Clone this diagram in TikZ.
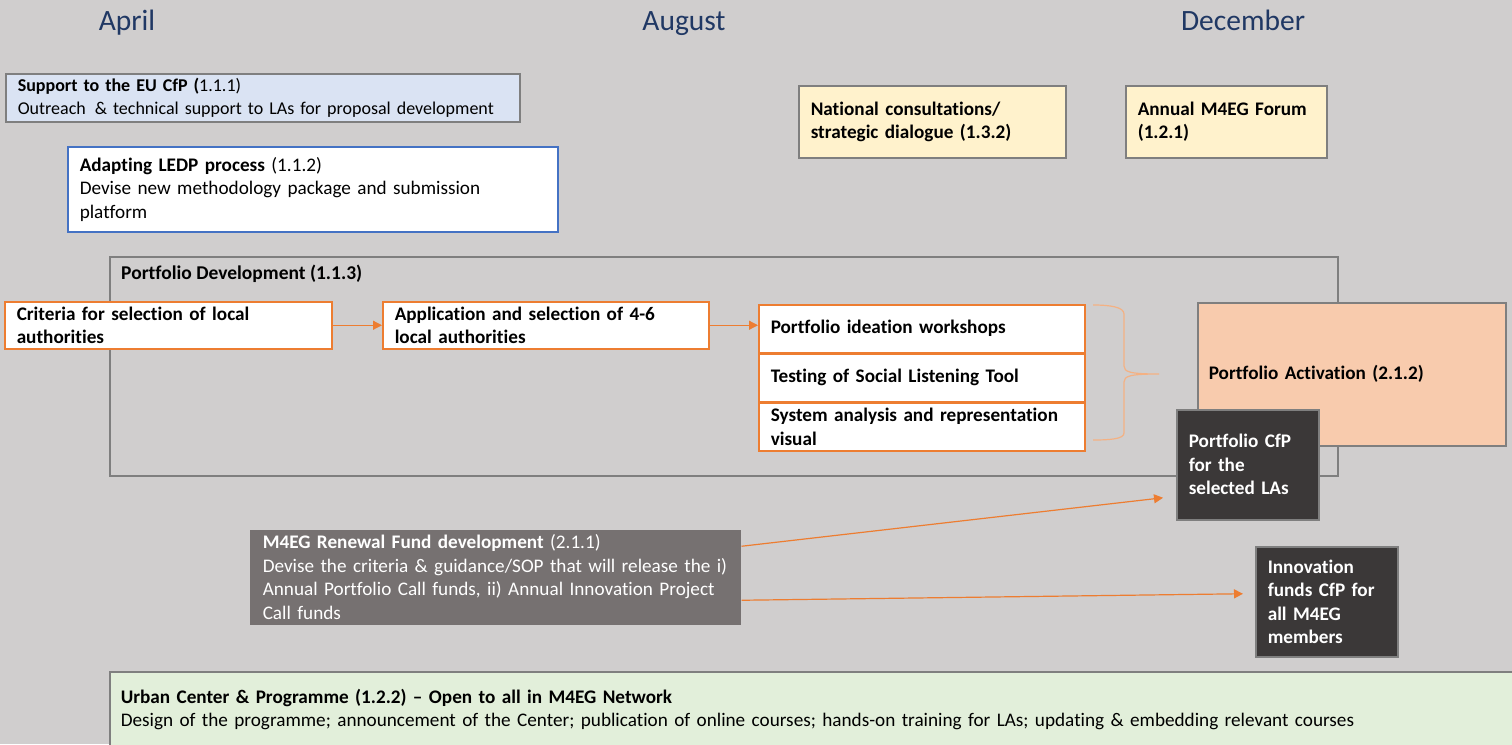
\documentclass[tikz,border=0pt]{standalone}
\usepackage{fontspec}
\setmainfont{Carlito}[Ligatures=NoCommon]
\usetikzlibrary{arrows.meta,positioning}

\definecolor{bggray}{HTML}{D0CECE}
\definecolor{monthblue}{HTML}{203864}
\definecolor{framegray}{HTML}{7F7F7F}
\definecolor{boxblue}{HTML}{4472C4}
\definecolor{lineorange}{HTML}{ED7D31}
\definecolor{braceorange}{HTML}{F4B183}
\definecolor{fillblue}{HTML}{DAE3F3}
\definecolor{fillyellow}{HTML}{FFF2CC}
\definecolor{fillpeach}{HTML}{F8CBAD}
\definecolor{filldark}{HTML}{3B3838}
\definecolor{fillmid}{HTML}{767171}
\definecolor{fillgreen}{HTML}{E2EFDA}

\begin{document}
\begin{tikzpicture}[x=1pt,y=-1pt,
    month/.style={anchor=base, text=monthblue, font=\fontsize{29.5}{32}\selectfont},
    box/.style={anchor=north west, align=left, inner xsep=12pt, inner ysep=0pt,
                line width=1.5pt, font=\fontsize{19.2}{23.5}\selectfont},
    graybox/.style={box, draw=framegray},
    orangebox/.style={box, draw=lineorange, fill=white},
    darkbox/.style={box, draw=framegray, fill=filldark, text=white},
    flow/.style={draw=lineorange, line width=1.2pt, -{Triangle[length=9pt,width=9pt]}}]

    % background
    \clip (0,0) rectangle (1512,744);
    \fill[bggray] (0,0) rectangle (1512,744);

    \node[month] (apr) at (127,30) {April};
    \node[month] (aug) at (684,30) {August};
    \node[month] (dec) at (1243,30) {December};

    \node[graybox, fill=fillblue, font=\fontsize{18}{23.5}\selectfont, minimum width=514pt, minimum height=48pt, text width=490pt] (eucfp) at (5,73)
        {\textbf{Support to the EU CfP (}1.1.1)\\ Outreach \,\& technical support to LAs for proposal development};
    \node[box, draw=boxblue, fill=white, minimum width=490pt, minimum height=85pt, text width=466pt] (ledp) at (67,146)
        {\textbf{Adapting LEDP process} (1.1.2)\\ Devise new methodology package and submission\\ platform};
    \node[graybox, fill=fillyellow, minimum width=267pt, minimum height=72pt, text width=243pt] (natcon) at (798,85)
        {\textbf{National consultations/}\\ \textbf{strategic dialogue (1.3.2)}};
    \node[graybox, fill=fillyellow, minimum width=201pt, minimum height=72pt, text width=177pt] (forum) at (1125,85)
        {\textbf{Annual M4EG Forum}\\ \textbf{(1.2.1)}};

    % portfolio development frame
    \node[draw=framegray, line width=1.5pt, anchor=north west, minimum width=1228pt, minimum height=219pt] (portdev) at (109,256) {};
    \node[anchor=west, inner sep=0pt, font=\fontsize{19.5}{23.5}\selectfont\bfseries] (portdevtitle) at (121,274)
        {Portfolio Development (1.1.3)};

    \node[orangebox, minimum width=327pt, minimum height=47pt, text width=303pt] (crit) at (4,301)
        {\textbf{Criteria for selection of local}\\ \textbf{authorities}};
    \node[orangebox, minimum width=326pt, minimum height=47pt, text width=302pt] (appl) at (382,301)
        {\textbf{Application and selection of 4-6}\\ \textbf{local authorities}};
    \node[orangebox, minimum width=326pt, minimum height=48pt, text width=302pt] (ideat) at (758,304)
        {\textbf{Portfolio ideation workshops}};
    \node[orangebox, anchor=north, minimum width=326pt, minimum height=47pt, text width=302pt, below=0pt of ideat] (sltool)
        {\textbf{Testing of Social Listening Tool}};
    \node[orangebox, anchor=north, minimum width=326pt, minimum height=48pt, text width=302pt, below=0pt of sltool] (sysan)
        {\textbf{System analysis and representation}\\ \textbf{visual}};

    \draw[flow] (crit.east) -- (appl.west);
    \draw[flow] (appl.east) -- (appl.east -| ideat.west);

    % brace
    \draw[braceorange, line width=1.2pt] (1093,305) .. controls (1110,305) and (1124,307) .. (1124,314)
        -- (1124,366) .. controls (1124,372) and (1130,374) .. (1159,374)
        .. controls (1130,374) and (1124,376) .. (1124,382)
        -- (1124,433) .. controls (1124,439) and (1110,440) .. (1093,440);

    \node[graybox, fill=fillpeach, inner xsep=11pt, minimum width=308pt, minimum height=143pt, text width=286pt] (activ) at (1197,302)
        {\textbf{Portfolio Activation (2.1.2)}};
    \node[darkbox, minimum width=142pt, minimum height=110pt, text width=118pt] (cfp) at (1176,409)
        {\textbf{Portfolio CfP}\\ \textbf{for the}\\ \textbf{selected LAs}};

    \node[box, fill=fillmid, text=white, inner xsep=13pt, minimum width=491pt, minimum height=95pt, text width=465pt] (renew) at (249,529)
        {\textbf{M4EG Renewal Fund development} (2.1.1)\\ Devise the criteria \& guidance/SOP that will release the i)\\
         Annual Portfolio Call funds, ii) Annual Innovation Project\\ Call funds};
    \node[darkbox, minimum width=142pt, minimum height=110pt, text width=118pt] (innov) at (1255,546)
        {\textbf{Innovation}\\ \textbf{funds CfP for}\\ \textbf{all M4EG}\\ \textbf{members}};

    \draw[flow] ([yshift=31pt]renew.east) -- ([xshift=-13pt,yshift=-33pt]cfp.west);
    \draw[flow] ([yshift=-23pt]renew.east) -- ([xshift=-12pt,yshift=8pt]innov.west);

    \node[graybox, fill=fillgreen, inner xsep=11pt, minimum width=1420pt, minimum height=76pt, text width=1398pt] (urban) at (109,671)
        {\textbf{Urban Center \& Programme (1.2.2) -- Open to all in M4EG Network}\\
         Design of the programme; announcement of the Center; publication of online courses; hands-on training for LAs; updating \& embedding relevant courses};
\end{tikzpicture}
\end{document}
